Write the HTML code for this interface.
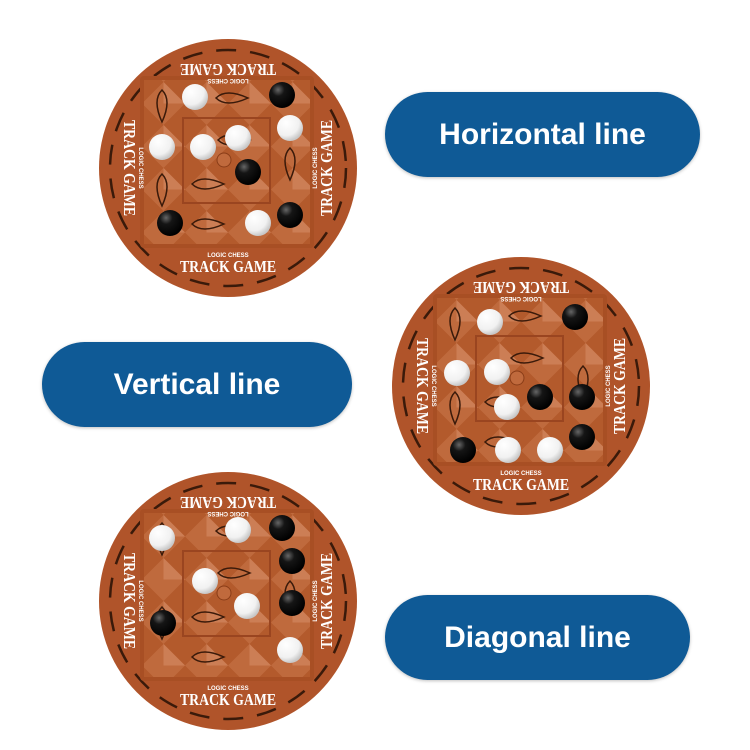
<!DOCTYPE html>
<html><head><style>
html,body{margin:0;padding:0;background:#fff;width:750px;height:750px;overflow:hidden}
.pill{position:absolute;background:#0f5a96;border-radius:43px;color:#fff;font:bold 30px "Liberation Sans",sans-serif;display:flex;align-items:center;justify-content:center;box-shadow:0 1px 3px rgba(0,0,0,.25)}
svg{position:absolute;left:0;top:0}
</style></head><body>
<svg width="750" height="750" viewBox="0 0 750 750">
<defs>
<radialGradient id="w" cx="35%" cy="30%" r="70%"><stop offset="0" stop-color="#fff"/><stop offset=".7" stop-color="#f1f1f1"/><stop offset="1" stop-color="#c8c8c8"/></radialGradient>
<radialGradient id="k" cx="35%" cy="30%" r="70%"><stop offset="0" stop-color="#666"/><stop offset=".35" stop-color="#151515"/><stop offset="1" stop-color="#000"/></radialGradient>
<pattern id="dia" x="0" y="0" width="43" height="43" patternUnits="userSpaceOnUse">
<rect width="43" height="43" fill="#b35a2c"/>
<polygon points="21.5,0 43,21.5 21.5,43 0,21.5" fill="#bf6a3d"/>
<polygon points="21.5,0 43,21.5 21.5,21.5" fill="#cc7e55"/>
</pattern>
<g id="base">
<circle r="129" fill="#b0542a"/>
<circle r="118" fill="none" stroke="#3a1a0a" stroke-width="2.5" stroke-dasharray="20 14"/>
<rect x="-88" y="-92" width="174" height="172" rx="4" fill="#a84f24"/>
<rect x="-84" y="-88" width="166" height="164" fill="url(#dia)"/>
<rect x="-45" y="-50" width="87" height="85" fill="none" stroke="#9a4520" stroke-width="2"/>
<circle cx="-4" cy="-8" r="7" fill="#c06a3d" stroke="#8a3d18"/>
<g fill="none" stroke="#3a1a0a" stroke-width="1.5">
<path d="M-66 -78 q-10 10 0 32 q10 -22 0 -32z"/>
<path d="M-66 6 q-10 10 0 32 q10 -22 0 -32z"/>
<path d="M62 -20 q-10 10 0 32 q10 -22 0 -32z"/>
<path d="M-12 -70 q10 -10 32 0 q-22 10 -32 0z"/>
<path d="M-36 16 q10 -10 32 0 q-22 10 -32 0z"/>
<path d="M-10 -28 q10 -10 32 0 q-22 10 -32 0z"/>
<path d="M-36 56 q10 -10 32 0 q-22 10 -32 0z"/>
</g>
</g>
</defs>

<g transform="translate(228,168)">
<use href="#base"/>
<g fill="#fff" font-family="Liberation Serif,serif" font-weight="bold" text-anchor="middle">
<text y="104" font-size="17" textLength="96" lengthAdjust="spacingAndGlyphs">TRACK GAME</text><text y="89" font-size="6" font-family="Liberation Sans,sans-serif">LOGIC CHESS</text>
<g transform="rotate(180)"><text y="104" font-size="17" textLength="96" lengthAdjust="spacingAndGlyphs">TRACK GAME</text><text y="89" font-size="6" font-family="Liberation Sans,sans-serif">LOGIC CHESS</text></g>
<g transform="rotate(90)"><text y="104" font-size="17" textLength="96" lengthAdjust="spacingAndGlyphs">TRACK GAME</text><text y="89" font-size="6" font-family="Liberation Sans,sans-serif">LOGIC CHESS</text></g>
<g transform="rotate(-90)"><text y="104" font-size="17" textLength="96" lengthAdjust="spacingAndGlyphs">TRACK GAME</text><text y="89" font-size="6" font-family="Liberation Sans,sans-serif">LOGIC CHESS</text></g>
</g>
<circle cx="-33" cy="-71" r="13" fill="url(#w)"/><circle cx="54" cy="-73" r="13" fill="url(#k)"/>
<circle cx="-66" cy="-21" r="13" fill="url(#w)"/><circle cx="-25" cy="-21" r="13" fill="url(#w)"/>
<circle cx="10" cy="-30" r="13" fill="url(#w)"/><circle cx="62" cy="-40" r="13" fill="url(#w)"/>
<circle cx="20" cy="4" r="13" fill="url(#k)"/><circle cx="-58" cy="55" r="13" fill="url(#k)"/>
<circle cx="30" cy="55" r="13" fill="url(#w)"/><circle cx="62" cy="47" r="13" fill="url(#k)"/>
</g>

<g transform="translate(521,386)">
<use href="#base"/>
<g fill="#fff" font-family="Liberation Serif,serif" font-weight="bold" text-anchor="middle">
<text y="104" font-size="17" textLength="96" lengthAdjust="spacingAndGlyphs">TRACK GAME</text><text y="89" font-size="6" font-family="Liberation Sans,sans-serif">LOGIC CHESS</text>
<g transform="rotate(180)"><text y="104" font-size="17" textLength="96" lengthAdjust="spacingAndGlyphs">TRACK GAME</text><text y="89" font-size="6" font-family="Liberation Sans,sans-serif">LOGIC CHESS</text></g>
<g transform="rotate(90)"><text y="104" font-size="17" textLength="96" lengthAdjust="spacingAndGlyphs">TRACK GAME</text><text y="89" font-size="6" font-family="Liberation Sans,sans-serif">LOGIC CHESS</text></g>
<g transform="rotate(-90)"><text y="104" font-size="17" textLength="96" lengthAdjust="spacingAndGlyphs">TRACK GAME</text><text y="89" font-size="6" font-family="Liberation Sans,sans-serif">LOGIC CHESS</text></g>
</g>
<circle cx="-31" cy="-64" r="13" fill="url(#w)"/><circle cx="54" cy="-69" r="13" fill="url(#k)"/>
<circle cx="-64" cy="-13" r="13" fill="url(#w)"/><circle cx="-24" cy="-14" r="13" fill="url(#w)"/>
<circle cx="-14" cy="21" r="13" fill="url(#w)"/><circle cx="19" cy="11" r="13" fill="url(#k)"/>
<circle cx="61" cy="11" r="13" fill="url(#k)"/><circle cx="-58" cy="64" r="13" fill="url(#k)"/>
<circle cx="-13" cy="64" r="13" fill="url(#w)"/><circle cx="29" cy="64" r="13" fill="url(#w)"/>
<circle cx="61" cy="51" r="13" fill="url(#k)"/>
</g>

<g transform="translate(228,601)">
<use href="#base"/>
<g fill="#fff" font-family="Liberation Serif,serif" font-weight="bold" text-anchor="middle">
<text y="104" font-size="17" textLength="96" lengthAdjust="spacingAndGlyphs">TRACK GAME</text><text y="89" font-size="6" font-family="Liberation Sans,sans-serif">LOGIC CHESS</text>
<g transform="rotate(180)"><text y="104" font-size="17" textLength="96" lengthAdjust="spacingAndGlyphs">TRACK GAME</text><text y="89" font-size="6" font-family="Liberation Sans,sans-serif">LOGIC CHESS</text></g>
<g transform="rotate(90)"><text y="104" font-size="17" textLength="96" lengthAdjust="spacingAndGlyphs">TRACK GAME</text><text y="89" font-size="6" font-family="Liberation Sans,sans-serif">LOGIC CHESS</text></g>
<g transform="rotate(-90)"><text y="104" font-size="17" textLength="96" lengthAdjust="spacingAndGlyphs">TRACK GAME</text><text y="89" font-size="6" font-family="Liberation Sans,sans-serif">LOGIC CHESS</text></g>
</g>
<circle cx="-66" cy="-63" r="13" fill="url(#w)"/><circle cx="10" cy="-71" r="13" fill="url(#w)"/>
<circle cx="54" cy="-73" r="13" fill="url(#k)"/><circle cx="64" cy="-40" r="13" fill="url(#k)"/>
<circle cx="-23" cy="-20" r="13" fill="url(#w)"/><circle cx="19" cy="5" r="13" fill="url(#w)"/>
<circle cx="64" cy="2" r="13" fill="url(#k)"/><circle cx="-65" cy="22" r="13" fill="url(#k)"/>
<circle cx="62" cy="49" r="13" fill="url(#w)"/>
</g>
</svg>
<div class="pill" style="left:385px;top:92px;width:315px;height:85px">Horizontal line</div>
<div class="pill" style="left:42px;top:342px;width:310px;height:85px">Vertical line</div>
<div class="pill" style="left:385px;top:595px;width:305px;height:85px">Diagonal line</div>
</body></html>
